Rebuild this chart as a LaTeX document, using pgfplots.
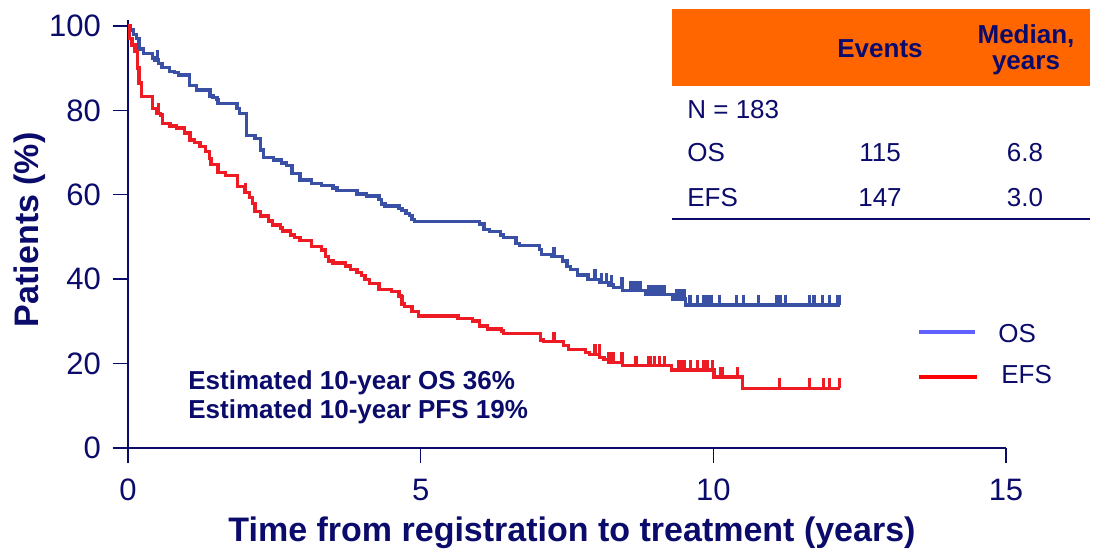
\documentclass[border=0pt]{standalone}
\usepackage{pgfplots}
\usepackage{pgfplotstable}
\pgfplotsset{compat=1.18}
\usepackage{fontspec}
\setmainfont{Liberation Sans}

\definecolor{navy}{HTML}{0B0B6B}
\definecolor{osblue}{HTML}{3A50A5}
\definecolor{efsred}{HTML}{ED1C24}
\definecolor{legblue}{HTML}{6060FF}
\definecolor{legred}{HTML}{FF0000}
\definecolor{hdrorange}{HTML}{FF6600}

\newcommand{\tickfont}{\fontsize{15.5pt}{18pt}\selectfont}
\newcommand{\titlefont}{\fontsize{17pt}{20pt}\selectfont\bfseries}
\newcommand{\smallfont}{\fontsize{13pt}{15pt}\selectfont}

% Kaplan-Meier step data: time (years), survival (%)
\pgfplotstableread{
t s
0.00 100.0
0.04 99.0
0.09 97.9
0.15 97.1
0.19 94.5
0.27 93.5
0.42 92.4
0.46 91.9
0.52 91.1
0.58 90.2
0.71 89.2
0.79 88.9
0.86 88.4
1.05 85.9
1.17 84.8
1.40 83.4
1.45 83.1
1.52 82.6
1.54 81.7
1.86 80.5
1.91 79.3
2.03 74.1
2.17 73.4
2.26 70.6
2.31 68.9
2.48 68.2
2.62 67.5
2.71 66.9
2.80 65.1
2.94 63.5
3.14 62.7
3.31 62.2
3.50 61.6
3.57 61.0
3.91 60.2
4.08 59.7
4.29 58.8
4.33 57.8
4.39 57.3
4.63 56.8
4.68 56.2
4.75 55.6
4.81 55.1
4.85 54.2
4.90 53.6
6.00 53.1
6.08 51.8
6.17 51.3
6.36 50.5
6.42 49.8
6.63 48.5
6.69 47.9
7.03 47.1
7.07 45.9
7.24 45.3
7.42 44.3
7.50 43.0
7.56 42.3
7.68 41.0
7.86 40.0
8.06 39.2
8.22 38.6
8.30 38.1
8.45 37.3
8.85 36.3
9.31 35.3
9.53 33.9
12.16 33.9
}\osdata

\pgfplotstableread{
t s
0.50 91.9
7.28 45.3
7.98 40.0
8.09 39.2
8.18 39.2
8.26 38.6
8.44 38.1
8.58 37.3
8.62 37.3
8.66 37.3
8.70 37.3
8.75 37.3
8.89 36.3
8.93 36.3
8.97 36.3
9.01 36.3
9.05 36.3
9.09 36.3
9.13 36.3
9.17 36.3
9.37 35.3
9.43 35.3
9.50 35.3
9.60 33.9
9.73 33.9
9.84 33.9
9.88 33.9
9.92 33.9
9.97 33.9
10.10 33.9
10.40 33.9
10.51 33.9
10.77 33.9
11.09 33.9
11.12 33.9
11.15 33.9
11.23 33.9
11.64 33.9
11.72 33.9
11.87 33.9
11.98 33.9
12.12 33.9
12.15 33.9
}\oscens

\pgfplotstableread{
t s
0.00 100.0
0.03 97.0
0.07 95.5
0.12 93.9
0.16 90.0
0.19 86.5
0.23 83.3
0.42 80.5
0.49 79.3
0.56 78.9
0.59 76.8
0.72 76.3
0.83 75.8
0.97 74.6
1.06 73.0
1.14 72.3
1.23 71.4
1.32 70.2
1.39 68.6
1.42 67.1
1.54 65.2
1.66 64.5
1.87 61.9
2.00 60.5
2.07 59.3
2.13 58.0
2.17 56.1
2.26 55.0
2.40 53.8
2.47 52.8
2.60 52.1
2.64 51.4
2.78 50.5
2.85 49.9
2.94 49.1
3.14 47.7
3.31 46.9
3.37 45.3
3.42 44.3
3.50 43.8
3.72 43.1
3.80 42.3
3.91 41.5
3.99 40.8
4.05 40.0
4.12 39.0
4.29 37.6
4.50 37.0
4.63 35.9
4.68 34.1
4.72 33.5
4.85 32.3
4.96 31.3
5.64 30.7
5.89 30.1
6.00 28.9
6.14 28.2
6.38 27.7
6.41 27.2
7.05 25.6
7.10 25.2
7.44 24.3
7.52 23.3
7.82 22.6
7.89 22.2
8.06 21.4
8.13 20.9
8.21 20.3
8.45 19.5
9.29 18.5
10.01 16.8
10.50 14.1
12.16 14.1
}\efsdata

\pgfplotstableread{
t s
0.52 79.3
2.01 60.5
4.67 34.1
7.28 25.2
7.98 22.2
8.05 22.2
8.22 20.3
8.26 20.3
8.30 20.3
8.44 20.3
8.68 19.5
8.90 19.5
8.93 19.5
9.00 19.5
9.08 19.5
9.16 19.5
9.40 18.5
9.44 18.5
9.50 18.5
9.61 18.5
9.73 18.5
9.84 18.5
9.87 18.5
9.90 18.5
9.99 18.5
10.12 16.8
10.15 16.8
10.41 16.8
11.13 14.1
11.64 14.1
11.88 14.1
11.99 14.1
12.15 14.1
}\efscens

\begin{document}
\begin{tikzpicture}
% page frame: 1094 x 548 units of 0.5pt, axis origin at (128,448)
\path[use as bounding box] (-64pt,-50pt) rectangle (483pt,224pt);

\begin{axis}[
  scale only axis,
  width=439pt, height=214pt,
  xmin=0, xmax=15, ymin=0, ymax=101.4,
  axis lines*=left,
  x axis line style={navy, line width=0.9pt},
  y axis line style={navy, line width=1.3pt},
  tick align=outside,
  major tick length=7.5pt,
  tick style={navy, line width=0.7pt},
  xtick={0,5,10,15},
  ytick={0,20,40,60,80,100},
  /pgf/number format/assume math mode=true,
  tick label style={font=\tickfont, text=navy},
  xticklabel style={yshift=-4.5pt},
  yticklabel style={xshift=-2.5pt},
  xlabel={Time from registration to treatment (years)},
  ylabel={Patients (\%)},
  every axis x label/.style={at={(axis description cs:0.5057,-0.218)}, anchor=base, font=\titlefont, text=navy},
  every axis y label/.style={at={(axis description cs:-0.1025,0.51)}, rotate=90, anchor=base, font=\titlefont, text=navy},
  clip=false,
]
\addplot[const plot, osblue, line width=1.65pt] table {\osdata};
\addplot[const plot, efsred, line width=1.65pt] table {\efsdata};
\addplot[only marks, mark=|, mark size=2.5pt, osblue,
  mark options={line width=1.65pt, yshift=2.5pt}] table {\oscens};
\addplot[only marks, mark=|, mark size=2.5pt, efsred,
  mark options={line width=1.65pt, yshift=2.5pt}] table {\efscens};
\end{axis}

% overlay in page units (0.5pt, y downwards)
\begin{scope}[x=0.5pt, y=-0.5pt, shift={(-64pt,224pt)}]
  % summary table
  \fill[hdrorange] (672,9) rectangle (1090,86);
  \draw[navy, line width=1pt] (672,219) -- (1090,219);
  \begin{scope}[every node/.style={inner sep=0pt, text=navy, font=\smallfont}]
    \node[anchor=base, font=\smallfont\bfseries] at (880,57) {Events};
    \node[anchor=base, font=\smallfont\bfseries] at (1026,43) {Median,};
    \node[anchor=base, font=\smallfont\bfseries] at (1026,69) {years};
    \node[anchor=base west] at (687,118) {N = 183};
    \node[anchor=base west] at (687,161) {OS};
    \node[anchor=base] at (880,161) {115};
    \node[anchor=base] at (1025,161) {6.8};
    \node[anchor=base west] at (687,206) {EFS};
    \node[anchor=base] at (880,206) {147};
    \node[anchor=base] at (1025,206) {3.0};
    % estimates
    \node[anchor=base west, font=\smallfont\bfseries] at (188,389) {Estimated 10-year OS 36\%};
    \node[anchor=base west, font=\smallfont\bfseries] at (188,418) {Estimated 10-year PFS 19\%};
    % legend
    \draw[legblue, line width=2pt] (919,332) -- (975,332);
    \node[anchor=base west] at (998,342) {OS};
    \draw[legred, line width=2pt] (919,377) -- (977,377);
    \node[anchor=base west] at (1001,383) {EFS};
  \end{scope}
\end{scope}
\end{tikzpicture}
\end{document}
